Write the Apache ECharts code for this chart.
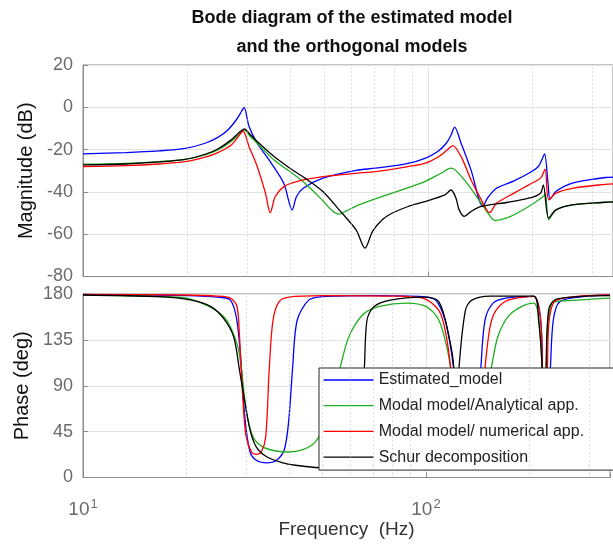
<!DOCTYPE html>
<html>
<head>
<meta charset="utf-8">
<script src="https://cdn.jsdelivr.net/npm/echarts@6/dist/echarts.min.js"></script>
<style>
  html, body { margin: 0; padding: 0; background: #fff; }
  #chart { width: 613px; height: 546px; }
</style>
</head>
<body>
<div id="chart"></div>
<script>
// Frequency response samples: [frequency in Hz, value]
const seriesNames = ['Estimated_model', 'Modal model/Analytical app.', 'Modal model/ numerical app.', 'Schur decomposition'];
const seriesColors = ['#0000ff', '#1fae1f', '#ff0000', '#000000'];

// Magnitude (dB)
const magEstimated = [[10,-22],[13.3,-21.4],[16.6,-20.6],[19.8,-19.4],[22.6,-17],[24.6,-14.2],[26.3,-10.7],[27.8,-6],[28.8,-2],[29.3,0],[30.3,-9.1],[32,-17],[34.9,-25.7],[38.2,-35.9],[40.4,-48.5],[41.6,-42.2],[43.5,-38.3],[49.6,-33.5],[61.9,-29.8],[70.5,-28.8],[87.6,-26.5],[98,-24.1],[106.8,-20.9],[113,-17],[116.7,-13.1],[119.5,-9.4],[124.8,-17],[133.3,-29.6],[144.4,-46.9],[148.7,-43],[158,-38.3],[177.6,-34.8],[196,-31.2],[209,-28],[216,-23.3],[218,-22],[223,-35.9],[226,-43.5],[235,-39.8],[262,-35.9],[292,-34.3],[327,-33.2],[344,-33]];
const magAnalytical = [[10,-26.9],[13.3,-26.5],[16.6,-25.7],[19.8,-24.6],[22.6,-22.5],[24.6,-20.2],[26.9,-16.2],[28.4,-12.6],[29.4,-10.7],[30.3,-13.1],[32,-17],[35.8,-24.9],[39.8,-30.4],[44,-35.9],[49.6,-44.2],[52.5,-48.5],[55.2,-50.5],[58,-49],[63.1,-46.1],[78.6,-40.6],[98,-35.1],[109,-31.2],[116.7,-28.8],[127.5,-34.3],[142.8,-45.4],[150,-50.5],[156.4,-53.5],[173.7,-51.6],[196,-46.9],[216,-42.2],[219,-41.1],[224,-53.2],[235,-48.5],[262,-46.1],[327,-44.9],[344,-44.7]];
const magNumerical = [[10,-28],[13.3,-27.6],[16.6,-26.8],[19.8,-25.7],[22.6,-23.6],[24.6,-21.4],[26.9,-17.8],[28.4,-13.1],[29.1,-11.2],[30.3,-18.6],[32,-28],[33.8,-40.6],[34.9,-49.8],[36.1,-42.2],[38.2,-37.5],[41.6,-35.1],[49.6,-32.8],[61.9,-31.2],[70.5,-30.4],[87.6,-28],[98,-26.5],[106.8,-23.6],[113.7,-20.2],[118,-18.1],[124.8,-23.3],[133.3,-34.3],[142.8,-43.8],[150.9,-49.8],[158,-45.4],[177.6,-40.6],[196,-36.7],[212,-33.5],[218.5,-29.3],[224,-43.8],[235,-40.6],[262,-38.3],[327,-36.4],[344,-36.2]];
const magSchur = [[10,-27.2],[13.3,-26.8],[16.6,-25.8],[19.8,-24.6],[22.6,-22.2],[24.6,-19.7],[26.9,-15.4],[28.4,-11.8],[29.4,-10.2],[30.3,-12.3],[32,-16.2],[35.8,-23.3],[39.8,-28.8],[44,-33.5],[49.6,-39.8],[55.3,-48.5],[61.9,-58],[65.7,-66.6],[69.1,-58.7],[73.7,-53.2],[78.6,-50.1],[87.6,-46.9],[98,-44.6],[112,-41.4],[116.7,-39.1],[120.6,-43],[123.2,-48.5],[127.5,-51.6],[133.3,-49.3],[142.8,-46.9],[171,-44.9],[196,-43],[212,-40.6],[216,-36.7],[224,-52.4],[235,-48.5],[262,-46.1],[327,-44.9],[344,-44.7]];

// Phase (deg)
const phaseEstimated = [[10,179.5],[15,179],[20,178.5],[24.6,177],[26.9,174],[28.1,154],[29,105],[29.7,56],[30.7,25],[32,17],[34.3,14.4],[36.5,16.4],[38.6,27],[39.8,56],[40.8,105],[42.1,154],[45.5,174],[50,177.5],[70,178.5],[98,177.5],[106.8,174],[113.7,154.5],[118,128],[121,100],[124,60],[130,20],[138,20],[142,60],[144.6,108],[148.7,154.5],[157,171],[171,176],[206,177.6],[216,154],[219,90],[222,30],[226,30],[229,90],[230.6,108],[235,154],[245.5,172.5],[292,177.6],[344,179]];
const phaseAnalytical = [[10,179],[16.6,177.5],[20.7,174.8],[25.7,158],[28.1,131.6],[29,105],[29.9,66],[31.3,40],[33.4,30],[36.5,26],[39.8,25],[43.5,27],[47.6,35],[50.7,53],[54.2,86],[56.6,112],[59.1,135],[61.9,149],[66.1,161],[73.7,168],[87.6,171],[100.3,167.6],[109,154.5],[115,128],[118,107],[125,40],[135,20],[145,40],[152,90],[155,107],[162,138],[173.7,158],[189.6,167.6],[206,171],[213,158],[218,107],[220,40],[223,60],[224,107],[233,171],[262,173.5],[344,176]];
const phaseNumerical = [[10,179.5],[20,179],[24.6,178],[26.9,176],[28.1,168],[28.6,138],[29.3,73],[29.9,40],[31,25],[32,22.6],[33.1,25],[34.1,40],[34.9,105],[35.8,154],[37.3,172.5],[39.8,177],[50,178.5],[80,178],[98,176],[109,164],[113.7,144.7],[118,108],[122,50],[130,20],[140,20],[145,60],[148.7,108],[153.8,148],[160,164],[173.7,174],[206,177.6],[216,154],[219,90],[223,30],[225,90],[226,108],[228.6,154],[240,174],[344,179]];
const phaseSchur = [[10,179],[16.6,177.4],[20.7,174],[23.6,167.6],[25.7,156],[27.5,138],[28.6,105],[29.7,72.7],[30.7,46.5],[32,30],[34.3,20.3],[38.2,14.4],[41.6,12],[47.6,9.8],[55,9],[62,20],[65,80],[66.1,107],[67.3,154.5],[70.5,167.6],[78.6,174],[98,177],[109,172.5],[116.7,138],[120.6,107],[122,30],[123.5,60],[124.8,107],[130.3,164],[136.1,174],[154,178],[206,178],[213,154],[218,108],[220,40],[223,60],[224,108],[228,165],[240,175],[344,178.5]];

// Axis ticks
const magTicks = { min: -80, max: 20, step: 20 };
const phaseTicks = { min: 0, max: 180, step: 45 };
const freqRange = { min: 10, max: 344 };
const minorFreqs = [20, 30, 40, 50, 60, 70, 80, 90, 200, 300];

const magData = [magEstimated, magAnalytical, magNumerical, magSchur];
const phaseData = [phaseEstimated, phaseAnalytical, phaseNumerical, phaseSchur];

const FONT = '"Liberation Sans", Arial, Helvetica, sans-serif';
const TICK_COLOR = '#6b6b6b';
const AXIS_COLOR = '#8c8c8c';
const GRID_COLOR = '#e3e3e3';

const chart = echarts.init(document.getElementById('chart'), null, { renderer: 'canvas' });

function xAxisFor(gridIndex, withLabels) {
  return {
    type: 'log', logBase: 10, gridIndex,
    min: freqRange.min, max: freqRange.max,
    axisLine: { show: true, onZero: false, lineStyle: { color: AXIS_COLOR, width: 1 } },
    axisTick: { show: true, inside: true, length: 5, lineStyle: { color: AXIS_COLOR } },
    splitLine: { show: true, lineStyle: { color: GRID_COLOR, width: 1 } },
    axisLabel: withLabels ? {
      show: true, margin: 20, fontFamily: FONT,
      formatter: v => {
        const e = Math.round(Math.log10(v));
        return Math.abs(Math.pow(10, e) - v) < 1e-6 ? '{b|10}{s|' + e + '}' : '';
      },
      rich: {
        b: { fontSize: 19, color: TICK_COLOR, fontFamily: FONT },
        s: { fontSize: 13, color: TICK_COLOR, fontFamily: FONT, padding: [0, 0, 12, 1] }
      }
    } : { show: false },
    name: withLabels ? 'Frequency  (Hz)' : '',
    nameLocation: 'middle', nameGap: 40,
    nameTextStyle: { fontSize: 19, color: '#333', fontFamily: FONT }
  };
}

function yAxisFor(gridIndex, t, name) {
  return {
    type: 'value', gridIndex,
    min: t.min, max: t.max, interval: t.step,
    axisLine: { show: true, lineStyle: { color: AXIS_COLOR, width: 1 } },
    axisTick: { show: true, inside: true, length: 5, lineStyle: { color: AXIS_COLOR } },
    splitLine: { show: true, lineStyle: { color: GRID_COLOR, width: 1 } },
    axisLabel: { fontSize: 18, color: TICK_COLOR, fontFamily: FONT, margin: 10 },
    name, nameLocation: 'middle', nameRotate: 90, nameGap: 43,
    nameTextStyle: { fontSize: 20, color: '#111', fontFamily: FONT }
  };
}

const minorGrid = {
  silent: true, symbol: ['none', 'none'],
  label: { show: false },
  lineStyle: { type: [1, 3], color: '#b8b8b8', width: 1 },
  emphasis: { disabled: true },
  data: minorFreqs.map(f => ({ xAxis: f }))
};

const series = [];
[magData, phaseData].forEach((group, gi) => {
  group.forEach((pts, si) => {
    series.push({
      type: 'line', name: seriesNames[si],
      xAxisIndex: gi, yAxisIndex: gi,
      data: pts, symbol: 'none', smooth: 0.3,
      lineStyle: { color: seriesColors[si], width: 1.3 },
      itemStyle: { color: seriesColors[si] },
      emphasis: { disabled: true },
      animation: false,
      markLine: si === 0 ? minorGrid : undefined
    });
  });
});

chart.setOption({
  animation: false,
  backgroundColor: '#fff',
  graphic: [{
    type: 'text', x: 352, y: 4,
    style: {
      text: 'Bode diagram of the estimated model\nand the orthogonal models',
      font: 'bold 18px ' + FONT, fill: '#111', align: 'center', lineHeight: 29
    }
  }],
  grid: [
    { left: 83, top: 65, width: 538, height: 211.5, show: true, borderColor: AXIS_COLOR, borderWidth: 1, backgroundColor: '#fff' },
    { left: 83, top: 294, width: 538, height: 183.5, show: true, borderColor: AXIS_COLOR, borderWidth: 1, backgroundColor: '#fff' }
  ],
  xAxis: [xAxisFor(0, false), xAxisFor(1, true)],
  yAxis: [yAxisFor(0, magTicks, 'Magnitude (dB)'), yAxisFor(1, phaseTicks, 'Phase (deg)')],
  legend: {
    orient: 'vertical', left: 319, top: 368,
    data: seriesNames,
    itemWidth: 50, itemHeight: 20, itemGap: 5.7,
    itemStyle: { opacity: 0, color: 'rgba(0,0,0,0)', borderWidth: 0 },
    lineStyle: { width: 1.3 },
    padding: [2, 40, 3, 4],
    backgroundColor: '#fff', borderColor: '#262626', borderWidth: 1, borderRadius: 0,
    textStyle: { fontSize: 16, color: '#222', fontFamily: FONT, lineHeight: 20 },
    selectedMode: false
  },
  series
});
</script>
</body>
</html>
